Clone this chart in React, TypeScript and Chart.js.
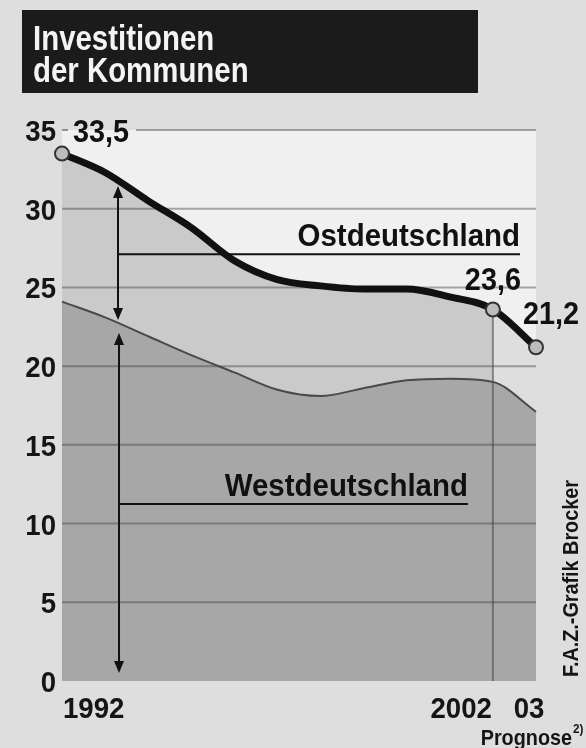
import React, { useEffect, useRef } from "react";
import { Chart, registerables } from "chart.js";

Chart.register(...registerables);

// ---------- data ----------
const years = [1992, 1993, 1994, 1995, 1996, 1997, 1998, 1999, 2000, 2001, 2002, 2003];
const ostValues = [33.5, 32.3, 30.5, 28.8, 26.7, 25.5, 25.1, 24.9, 24.9, 24.4, 23.6, 21.2];
const westValues = [24.1, 23.1, 21.9, 20.7, 19.6, 18.5, 18.1, 18.6, 19.1, 19.2, 19.0, 17.1];
const yTicks = [0, 5, 10, 15, 20, 25, 30, 35];
const xTickYears = [1992, 2002, 2003];
const xTickLabels = ["1992", "2002", "03"];
const labelledYears = [1992, 2002, 2003];
const titleLines = ["Investitionen", "der Kommunen"];
const ostName = "Ostdeutschland";
const westName = "Westdeutschland";
const prognoseText = "Prognose";
const prognoseNote = "2)";
const creditText = "F.A.Z.-Grafik Brocker";

const FONT = '"Liberation Sans", Arial, Helvetica, sans-serif';

function txt(
  ctx: CanvasRenderingContext2D,
  s: string,
  x: number,
  y: number,
  size: number,
  weight: string,
  align: "left" | "right" | "center",
  sx: number,
  color: string
) {
  ctx.save();
  ctx.font = `${weight} ${size}px ${FONT}`;
  ctx.fillStyle = color;
  ctx.textBaseline = "alphabetic";
  ctx.textAlign = "left";
  const w = ctx.measureText(s).width * sx;
  const left = align === "left" ? x : align === "right" ? x - w : x - w / 2;
  ctx.translate(left, y);
  ctx.scale(sx, 1);
  ctx.fillText(s, 0, 0);
  ctx.restore();
}

function interp(arr: number[], year: number) {
  const i = Math.max(0, Math.min(years.length - 2, Math.floor(year - years[0])));
  const t = year - years[i];
  return arr[i] + (arr[i + 1] - arr[i]) * t;
}

function arrow(ctx: CanvasRenderingContext2D, x: number, y1: number, y2: number, headTop: boolean, headBottom: boolean) {
  ctx.save();
  ctx.strokeStyle = "#111";
  ctx.fillStyle = "#111";
  ctx.lineWidth = 2;
  ctx.beginPath();
  ctx.moveTo(x, y1 + (headTop ? 6 : 0));
  ctx.lineTo(x, y2 - (headBottom ? 6 : 0));
  ctx.stroke();
  const L = 12, H = 5;
  if (headTop) {
    ctx.beginPath();
    ctx.moveTo(x, y1);
    ctx.lineTo(x - H, y1 + L);
    ctx.lineTo(x + H, y1 + L);
    ctx.closePath();
    ctx.fill();
  }
  if (headBottom) {
    ctx.beginPath();
    ctx.moveTo(x, y2);
    ctx.lineTo(x - H, y2 - L);
    ctx.lineTo(x + H, y2 - L);
    ctx.closePath();
    ctx.fill();
  }
  ctx.restore();
}

const ARROW_YEAR = 1993.3;
const OST_UNDERLINE = 27.1;
const WEST_UNDERLINE = 11.25;
const OST_LABEL_END = 2002.63;
const WEST_LABEL_END = 2001.42;
const PROGNOSE_START = 2002;

function bandPath(ctx: CanvasRenderingContext2D, ptsO: any[], ptsW: any[]) {
  ctx.beginPath();
  ctx.moveTo(ptsO[0].x, ptsO[0].y);
  for (let i = 1; i < ptsO.length; i++) {
    const p = ptsO[i - 1], q = ptsO[i];
    ctx.bezierCurveTo(p.cp2x ?? p.x, p.cp2y ?? p.y, q.cp1x ?? q.x, q.cp1y ?? q.y, q.x, q.y);
  }
  const n = ptsW.length - 1;
  ctx.lineTo(ptsW[n].x, ptsW[n].y);
  for (let i = n - 1; i >= 0; i--) {
    const p = ptsW[i + 1], q = ptsW[i];
    ctx.bezierCurveTo(p.cp1x ?? p.x, p.cp1y ?? p.y, q.cp2x ?? q.x, q.cp2y ?? q.y, q.x, q.y);
  }
  ctx.closePath();
}

function drawUnderlay(chart: any) {
  const { ctx, chartArea: a } = chart;
  const xs = chart.scales.x;
  const ys = chart.scales.y;
  const x02 = xs.getPixelForValue(PROGNOSE_START);
  const lineO = chart.getDatasetMeta(1).dataset;
  const lineW = chart.getDatasetMeta(0).dataset;
  if (lineO && lineW && lineO.points && lineW.points) {
    ctx.save();
    ctx.beginPath();
    ctx.rect(x02, a.top - 10, a.right - x02 + 10, a.bottom - a.top + 20);
    ctx.clip();
    bandPath(ctx, lineO.points, lineW.points);
    ctx.fillStyle = "#dedede";
    ctx.fill();
    ctx.restore();
  }
  ctx.save();
  ctx.strokeStyle = "rgba(70,70,70,0.55)";
  ctx.lineWidth = 2;
  ctx.beginPath();
  ctx.moveTo(x02, ys.getPixelForValue(ostValues[years.indexOf(PROGNOSE_START)]));
  ctx.lineTo(x02, ys.getPixelForValue(0));
  ctx.stroke();
  ctx.strokeStyle = "rgba(60,60,60,0.42)";
  ctx.lineWidth = 2;
  yTicks.forEach((v) => {
    if (v === 0) return;
    const y = ys.getPixelForValue(v);
    const x0 = v === 35 ? a.left + 74 : a.left;
    ctx.beginPath();
    ctx.moveTo(x0, y);
    ctx.lineTo(a.right, y);
    ctx.stroke();
  });
  ctx.restore();
}

const decor = {
  id: "decor",
  beforeDraw(chart: any) {
    const { ctx, chartArea: a, width, height } = chart;
    ctx.save();
    ctx.fillStyle = "#dedede";
    ctx.fillRect(0, 0, width, height);
    ctx.fillStyle = "#f0f0f0";
    ctx.fillRect(a.left, a.top, a.right - a.left, a.bottom - a.top);
    ctx.fillStyle = "#1b1b1b";
    ctx.fillRect(22, 10, 456, 83);
    ctx.restore();
    txt(ctx, titleLines[0], 33, 50, 35, "bold", "left", 0.84, "#f4f4f4");
    txt(ctx, titleLines[1], 33, 82, 35, "bold", "left", 0.84, "#f4f4f4");
    chart.$underlayPending = true;
  },
  beforeDatasetDraw(chart: any) {
    // fills are already painted (filler drawTime beforeDatasetsDraw); paint before first line
    if (chart.$underlayPending) {
      chart.$underlayPending = false;
      drawUnderlay(chart);
    }
  },
  afterDatasetsDraw(chart: any) {
    const { ctx } = chart;
    const xs = chart.scales.x;
    const ys = chart.scales.y;
    const ax = xs.getPixelForValue(ARROW_YEAR);
    const yO = ys.getPixelForValue(interp(ostValues, ARROW_YEAR));
    const yW = ys.getPixelForValue(interp(westValues, ARROW_YEAR));
    arrow(ctx, ax, yO + 5, yW - 3, true, true);
    arrow(ctx, ax + 1, yW + 10, ys.getPixelForValue(0) - 8, true, true);
    ctx.save();
    ctx.strokeStyle = "#111";
    ctx.lineWidth = 2;
    const uo = ys.getPixelForValue(OST_UNDERLINE);
    const xo = xs.getPixelForValue(OST_LABEL_END);
    ctx.beginPath();
    ctx.moveTo(ax, uo);
    ctx.lineTo(xo, uo);
    ctx.stroke();
    const uw = ys.getPixelForValue(WEST_UNDERLINE);
    const xw = xs.getPixelForValue(WEST_LABEL_END);
    ctx.beginPath();
    ctx.moveTo(ax + 1, uw);
    ctx.lineTo(xw, uw);
    ctx.stroke();
    ctx.restore();
    txt(ctx, ostName, xo, uo - 8, 32, "bold", "right", 0.92, "#111");
    txt(ctx, westName, xw, uw - 8, 32, "bold", "right", 0.92, "#111");
  },
  afterDraw(chart: any) {
    const { ctx } = chart;
    const xs = chart.scales.x;
    const ys = chart.scales.y;
    yTicks.forEach((v) => {
      const y = ys.getPixelForValue(v);
      txt(ctx, String(v), 56, y + 11, 30, "bold", "right", 0.92, "#151515");
    });
    xTickYears.forEach((yr, i) => {
      const x = xs.getPixelForValue(yr);
      const align = i === 0 ? "left" : i === 1 ? "right" : "center";
      const dx = i === 0 ? 1 : i === 1 ? -1 : -7;
      txt(ctx, xTickLabels[i], x + dx, 718, 30, "bold", align as any, 0.92, "#151515");
    });
    txt(ctx, prognoseText, 572, 745, 22, "bold", "right", 0.9, "#151515");
    txt(ctx, prognoseNote, 573, 733, 13, "bold", "left", 0.9, "#151515");
    labelledYears.forEach((yr, k) => {
      const idx = years.indexOf(yr);
      const v = ostValues[idx];
      const s = v.toFixed(1).replace(".", ",");
      const px = xs.getPixelForValue(yr);
      const py = ys.getPixelForValue(v);
      if (k === 0) txt(ctx, s, px + 11, py - 12, 31, "bold", "left", 0.93, "#111");
      else if (k === 1) txt(ctx, s, px, py - 19, 31, "bold", "center", 0.93, "#111");
      else txt(ctx, s, px + 15, py - 23, 31, "bold", "center", 0.93, "#111");
    });
    ctx.save();
    ctx.strokeStyle = "rgba(60,60,60,0.5)";
    ctx.lineWidth = 2;
    const y35 = ys.getPixelForValue(35);
    ctx.beginPath();
    ctx.moveTo(xs.getPixelForValue(1992), y35);
    ctx.lineTo(xs.getPixelForValue(1992) + 6, y35);
    ctx.stroke();
    ctx.restore();
    ctx.save();
    ctx.translate(578, 677);
    ctx.rotate(-Math.PI / 2);
    txt(ctx, creditText, 0, 0, 22, "bold", "left", 0.9, "#151515");
    ctx.restore();
  },
};

export default function App() {
  const ref = useRef<HTMLCanvasElement | null>(null);
  useEffect(() => {
    if (!ref.current) return;
    const pr = (v: number) => (labelledYears.includes(v) ? 7 : 0);
    const chart = new Chart(ref.current, {
      type: "line",
      data: {
        datasets: [
          {
            label: westName,
            data: years.map((y, i) => ({ x: y, y: westValues[i] })),
            borderColor: "#4a4a4a",
            borderWidth: 2,
            backgroundColor: "#a7a7a7",
            fill: "origin",
            pointRadius: 0,
            cubicInterpolationMode: "monotone",
            clip: false as any,
          },
          {
            label: ostName,
            data: years.map((y, i) => ({ x: y, y: ostValues[i] })),
            borderColor: "#111111",
            borderWidth: 7,
            backgroundColor: "#cacaca",
            fill: "-1",
            pointRadius: years.map(pr),
            pointBackgroundColor: "#bcbcbc",
            pointBorderColor: "#333333",
            pointBorderWidth: 2,
            cubicInterpolationMode: "monotone",
            clip: false as any,
          },
        ],
      },
      options: {
        responsive: false,
        animation: false,
        events: [],
        layout: { padding: { left: 62, right: 50, top: 130, bottom: 67 } },
        scales: {
          x: { type: "linear", min: 1992, max: 2003, display: false },
          y: { type: "linear", min: 0, max: 35, display: false },
        },
        plugins: {
          legend: { display: false },
          tooltip: { enabled: false },
          filler: { drawTime: "beforeDatasetsDraw" } as any,
        },
      },
      plugins: [decor],
    });
    return () => chart.destroy();
  }, []);
  return (
    <div style={{ position: "fixed", left: 0, top: 0, width: 586, height: 748 }}>
      <canvas ref={ref} width={586} height={748} style={{ display: "block" }} />
    </div>
  );
}
